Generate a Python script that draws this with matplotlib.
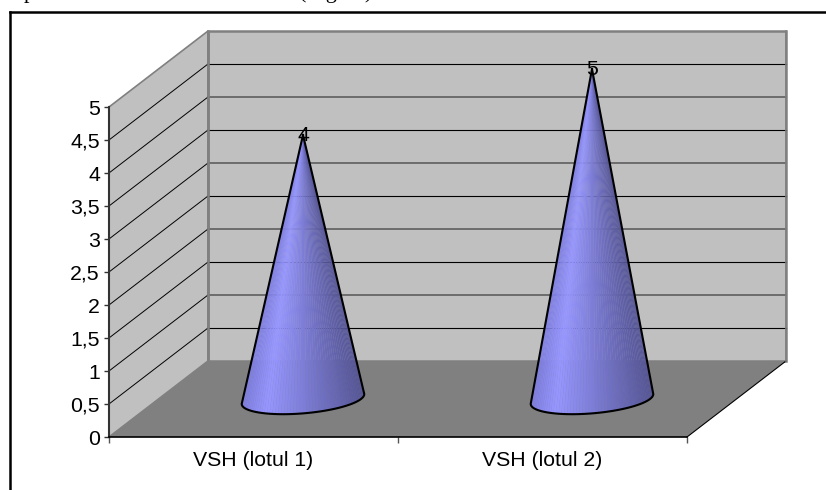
"""
VSH cone chart, 3D look built by hand on a normal axes
"""
import matplotlib.pyplot as plt
import numpy as np
from matplotlib.lines import Line2D

categories = ["VSH (lotul 1)", "VSH (lotul 2)"]
values = [4, 5]
y_ticks = [0, 0.5, 1, 1.5, 2, 2.5, 3, 3.5, 4, 4.5, 5]
y_tick_labels = ["0", "0,5", "1", "1,5", "2", "2,5", "3", "3,5", "4", "4,5", "5"]

W, H = 826, 490
DEPTH_X = 99 / 289  # depth shift in category units
DEPTH_Y = 76 / 66   # depth shift in value units
Y_MAX = 5

plt.rcParams["font.family"] = ["Liberation Sans", "DejaVu Sans"]

fig = plt.figure(figsize=(W / 100, H / 100), dpi=100)
ax = fig.add_axes([109 / W, (H - 437) / H, (687 - 109) / W, (437 - 107) / H])
ax.set_xlim(0, len(categories))
ax.set_ylim(0, Y_MAX)
ax.patch.set_visible(False)
for side in ["top", "right"]:
    ax.spines[side].set_visible(False)
ax.spines["left"].set_color("#333333")
ax.spines["left"].set_linewidth(1.5)
ax.spines["left"].set_zorder(6)
ax.spines["bottom"].set_color("black")
ax.spines["bottom"].set_linewidth(1.2)
ax.spines["bottom"].set_zorder(6)

# walls and floor
x_end = len(categories)
ax.fill([0, 0, DEPTH_X, DEPTH_X], [0, Y_MAX, Y_MAX + DEPTH_Y, DEPTH_Y],
        color="#c0c0c0", ec="#808080", lw=1.2, clip_on=False, zorder=1)
ax.fill([DEPTH_X, DEPTH_X, x_end + DEPTH_X, x_end + DEPTH_X],
        [DEPTH_Y, Y_MAX + DEPTH_Y, Y_MAX + DEPTH_Y, DEPTH_Y],
        color="#c0c0c0", ec="#808080", lw=1.8, clip_on=False, zorder=1)
ax.fill([0, x_end, x_end + DEPTH_X, DEPTH_X], [0, 0, DEPTH_Y, DEPTH_Y],
        color="#808080", lw=0, clip_on=False, zorder=2)
ax.plot([x_end, x_end + DEPTH_X], [0, DEPTH_Y], color="black", lw=0.8,
        clip_on=False, zorder=3)

# grid lines on both walls
for i, v in enumerate(y_ticks[1:-1]):
    ax.plot([0, DEPTH_X], [v, v + DEPTH_Y], color="black", lw=0.7,
            clip_on=False, zorder=3)
    dark = i % 2 == 0
    ax.plot([DEPTH_X, x_end + DEPTH_X], [v + DEPTH_Y, v + DEPTH_Y],
            color="black" if dark else "#555555", lw=0.8 if dark else 1.1,
            clip_on=False, zorder=3)
ax.plot([DEPTH_X, DEPTH_X], [DEPTH_Y, Y_MAX + DEPTH_Y], color="#808080", lw=1.8,
        clip_on=False, zorder=3)
ax.plot([x_end + DEPTH_X] * 2, [DEPTH_Y, Y_MAX + DEPTH_Y], color="#808080", lw=1.2,
        clip_on=False, zorder=3)

# cones
R_X = 58 / 289
SKEW_X = 0.2 * DEPTH_X
SKEW_Y = 0.2 * DEPTH_Y
tau = np.arctan2(SKEW_X, R_X)
stops = [0, 0.2, 1]
reds = [125, 150, 85]
blues = [225, 255, 150]


def draw_cone(pos, value):
    cx = pos + DEPTH_X / 2
    cy = DEPTH_Y / 2
    tip_y = value + DEPTH_Y / 2
    t = np.linspace(np.pi + tau, 2 * np.pi + tau, 61)
    bx = cx + R_X * np.cos(t) + SKEW_X * np.sin(t)
    by = cy + SKEW_Y * np.sin(t)
    frac = (bx - bx.min()) / (bx.max() - bx.min())
    for k in range(len(t) - 1):
        f = (frac[k] + frac[k + 1]) / 2
        rg = np.interp(f, stops, reds) / 255
        color = (rg, rg, np.interp(f, stops, blues) / 255)
        ax.fill([cx, bx[k], bx[k + 1]], [tip_y, by[k], by[k + 1]], color=color,
                lw=0.2, clip_on=False, zorder=4)
    ax.plot(np.r_[cx, bx, cx], np.r_[tip_y, by, tip_y], color="black", lw=1.5,
            clip_on=False, zorder=5, solid_joinstyle="round")
    ax.text(cx, tip_y, str(value), ha="center", va="center", fontsize=15.3,
            color="black", zorder=7)


for i, val in enumerate(values):
    draw_cone(i + 0.5, val)

# ticks and labels
ax.set_yticks(y_ticks, y_tick_labels)
ax.set_xticks(range(len(categories) + 1), [""] * (len(categories) + 1))
ax.set_xticks([i + 0.5 for i in range(len(categories))], categories, minor=True)
ax.tick_params(axis="y", length=3.5, width=1, pad=3, labelsize=15.3, color="#333333",
               labelcolor="black")
ax.tick_params(axis="x", which="major", length=4, width=1, color="#555555")
ax.tick_params(axis="x", which="minor", length=0, pad=10, labelsize=15.3)

# outer frame of the picture and the cut off caption above it
fig.add_artist(Line2D([10 / W, 10 / W], [0, 1 - 12 / H], color="black", lw=1.8))
fig.add_artist(Line2D([10 / W, 1], [1 - 12 / H, 1 - 12 / H], color="black", lw=1.8))
fig.text(24 / W, 1 + 2 / H, "p", family="Liberation Serif", fontsize=16,
         va="baseline", ha="left")
fig.text(299 / W, 1 + 2 / H, "( fig.  1)", family="Liberation Serif", fontsize=16,
         va="baseline", ha="left")

fig.savefig("out.png", dpi=100)
